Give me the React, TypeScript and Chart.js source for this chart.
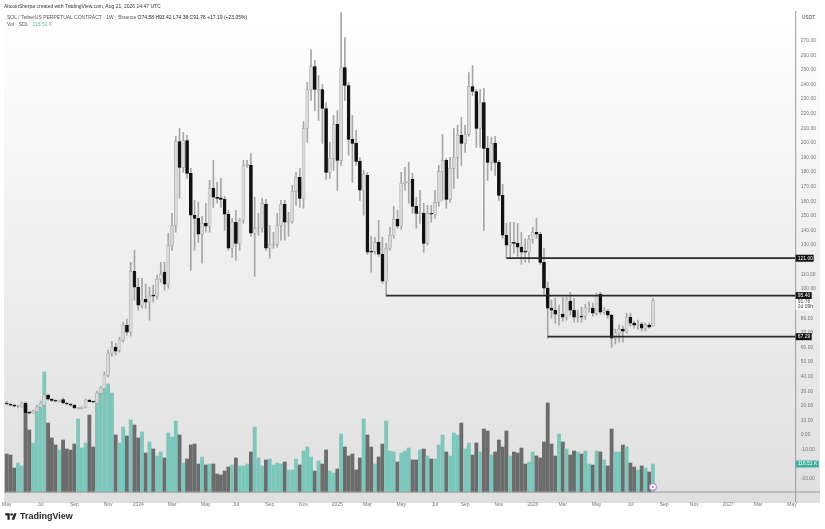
import { useRef, useEffect } from 'react'
import { Chart, registerables } from 'chart.js'

Chart.register(...registerables)

// weekly SOL/USDT candles
const opens = [
  21.9, 21.2, 20.5, 19.5, 19.5, 21.9, 15.7, 15.0, 16.4, 19.1,
  20.5, 27.3, 24.6, 23.6, 23.2, 24.3, 21.9, 21.2, 20.5, 18.1,
  18.1, 19.1, 23.9, 22.9, 21.9, 28.7, 32.1, 41.0, 56.0, 60.1,
  58.1, 64.9, 75.2, 70.4, 112.1, 101.2, 88.9, 93.0, 90.9, 95.7,
  95.0, 106.6, 111.6, 103.2, 129.9, 143.5, 200.9, 183.2, 201.6, 179.1,
  150.4, 148.3, 137.4, 144.9, 142.9, 168.8, 162.7, 162.3, 161.3, 151.1,
  127.8, 145.6, 131.2, 147.0, 184.5, 184.5, 138.1, 141.5, 141.5, 157.9,
  127.8, 129.9, 130.5, 143.5, 157.9, 145.6, 146.3, 166.8, 176.3, 162.0,
  209.8, 236.5, 252.2, 235.8, 236.5, 223.5, 179.8, 189.3, 212.6, 188.0,
  251.5, 239.2, 202.3, 199.6, 187.3, 167.5, 177.7, 125.8, 125.8, 131.9,
  123.7, 105.3, 127.8, 136.7, 147.6, 142.9, 172.2, 172.9, 175.0, 156.5,
  151.7, 151.7, 131.2, 151.7, 151.1, 159.3, 180.4, 188.0, 161.3, 182.5,
  190.0, 205.1, 199.6, 205.7, 238.5, 235.1, 209.8, 227.6, 196.2, 186.6,
  199.6, 186.6, 164.0, 136.7, 129.9, 131.9, 131.2, 128.5, 125.8, 125.1,
  134.0, 138.8, 137.4, 118.2, 100.5, 86.8, 85.4, 82.0, 82.7, 80.7,
  91.6, 85.4, 80.7, 81.3, 81.3, 86.8, 86.8, 83.4, 96.4, 84.1,
  84.8, 82.0, 66.3, 69.7, 72.5, 71.1, 80.7, 76.6, 75.2, 75.9,
  73.1, 75.2, 74.6,
]
const closes = [
  21.2, 20.5, 19.8, 19.8, 21.9, 15.0, 15.0, 16.4, 19.1, 21.9,
  27.3, 24.6, 23.6, 23.2, 23.6, 21.9, 21.2, 20.5, 18.5, 18.5,
  19.1, 23.9, 22.9, 22.6, 28.7, 32.1, 41.0, 56.0, 60.1, 57.4,
  64.9, 75.2, 70.4, 112.1, 101.2, 88.9, 92.3, 90.9, 95.0, 95.0,
  106.6, 110.0, 103.2, 129.9, 143.5, 200.9, 183.2, 201.6, 179.1, 150.4,
  148.3, 137.4, 144.9, 142.9, 168.8, 162.7, 162.0, 161.3, 151.1, 127.8,
  145.6, 131.2, 147.0, 184.5, 184.9, 138.1, 141.5, 142.2, 158.6, 127.8,
  130.5, 130.5, 143.5, 157.9, 145.6, 146.3, 166.8, 176.3, 162.0, 209.8,
  236.5, 252.2, 236.5, 236.5, 223.5, 179.8, 189.3, 212.6, 188.0, 251.5,
  239.2, 202.3, 199.6, 187.3, 167.5, 178.4, 125.1, 125.1, 131.9, 123.7,
  105.3, 127.8, 136.7, 147.6, 142.9, 172.2, 172.9, 173.6, 156.5, 151.7,
  152.4, 131.2, 151.7, 151.1, 159.3, 180.4, 188.0, 161.3, 182.5, 190.0,
  205.1, 199.6, 205.7, 238.5, 235.1, 209.8, 227.6, 196.2, 186.6, 199.6,
  186.6, 164.0, 136.7, 129.9, 131.9, 131.2, 128.5, 125.1, 125.1, 134.0,
  138.8, 137.4, 118.2, 100.5, 86.8, 85.4, 82.7, 82.7, 80.7, 93.0,
  85.4, 80.7, 81.3, 80.7, 86.8, 87.5, 83.4, 96.4, 84.1, 85.4,
  82.0, 66.3, 69.7, 72.5, 71.1, 80.7, 76.6, 75.2, 75.9, 73.1,
  75.2, 73.8, 91.8,
]
const highs = [
  23.2, 21.9, 21.2, 20.5, 22.6, 22.6, 16.4, 17.1, 20.5, 23.2,
  28.7, 28.0, 24.9, 23.9, 23.9, 25.3, 22.2, 21.5, 20.8, 18.8,
  19.5, 24.6, 24.6, 23.2, 30.1, 33.5, 43.1, 58.1, 64.2, 62.9,
  67.0, 77.2, 79.3, 118.2, 126.4, 107.3, 107.3, 103.2, 101.2, 102.5,
  109.4, 118.2, 118.2, 138.1, 151.7, 204.4, 209.8, 207.1, 205.1, 182.5,
  160.6, 159.3, 149.7, 158.6, 174.3, 188.0, 172.9, 175.7, 163.4, 153.8,
  148.3, 153.8, 148.3, 188.0, 188.0, 192.7, 162.7, 151.7, 162.0, 161.3,
  143.5, 138.8, 151.7, 160.6, 160.6, 152.4, 170.9, 179.8, 182.5, 214.6,
  241.3, 263.8, 256.3, 246.1, 239.9, 227.6, 200.3, 218.7, 222.1, 289.1,
  272.0, 241.3, 218.7, 208.5, 190.0, 181.1, 179.8, 136.0, 135.3, 147.0,
  135.3, 131.2, 142.2, 156.5, 153.8, 179.8, 183.2, 186.6, 179.1, 162.7,
  167.5, 158.6, 157.2, 157.2, 167.5, 184.5, 205.7, 189.3, 190.0, 209.8,
  211.9, 217.4, 211.9, 248.1, 252.9, 236.5, 236.5, 237.2, 204.4, 203.7,
  204.4, 188.0, 171.6, 144.9, 145.6, 145.6, 144.9, 138.8, 134.6, 136.7,
  142.2, 148.3, 138.8, 127.8, 104.6, 92.3, 93.6, 88.9, 94.3, 94.3,
  97.7, 93.6, 85.4, 87.5, 89.5, 90.9, 90.2, 97.1, 97.7, 87.5,
  86.1, 82.7, 72.5, 75.2, 74.5, 83.4, 83.4, 77.9, 78.6, 77.2,
  76.6, 76.6, 93.4,
]
const lows = [
  20.5, 19.8, 19.1, 18.8, 19.1, 14.4, 14.4, 14.7, 15.7, 18.5,
  19.8, 23.9, 22.9, 22.6, 22.6, 21.2, 20.5, 19.8, 18.1, 17.8,
  17.8, 18.5, 22.6, 21.9, 21.2, 27.3, 30.8, 39.6, 54.0, 54.7,
  56.7, 63.6, 68.4, 67.7, 92.3, 85.4, 86.8, 86.8, 78.6, 90.9,
  93.0, 104.6, 99.1, 100.5, 126.4, 138.8, 162.0, 179.8, 175.7, 112.8,
  126.4, 131.9, 117.6, 138.8, 138.8, 155.8, 158.6, 155.8, 140.1, 126.4,
  121.7, 119.6, 126.4, 144.9, 183.2, 136.0, 108.7, 136.7, 138.8, 126.4,
  121.0, 127.8, 128.5, 133.3, 133.3, 136.0, 144.9, 157.2, 155.8, 155.2,
  200.3, 229.0, 222.1, 215.3, 199.6, 175.0, 175.7, 181.1, 167.5, 184.5,
  229.0, 191.4, 172.9, 184.5, 160.6, 150.4, 123.7, 111.4, 123.7, 122.3,
  103.9, 95.0, 126.4, 134.6, 141.5, 140.8, 167.5, 158.6, 151.7, 141.5,
  144.9, 125.1, 129.9, 145.6, 148.3, 156.5, 160.6, 155.2, 159.3, 168.8,
  175.7, 184.5, 193.4, 204.4, 232.4, 196.8, 196.8, 140.1, 174.3, 181.1,
  177.7, 160.6, 134.6, 121.0, 121.0, 124.4, 122.3, 116.9, 118.2, 118.2,
  131.2, 134.6, 116.9, 96.4, 66.3, 80.0, 76.6, 75.2, 77.9, 78.6,
  82.0, 77.2, 77.2, 77.2, 79.3, 84.1, 81.3, 82.0, 82.7, 82.7,
  80.0, 60.1, 62.2, 63.6, 63.6, 69.7, 74.5, 73.1, 72.5, 71.1,
  71.1, 73.1, 74.4,
]
const volumes = [
  38, 37, 24, 29, 26, 88, 62, 49, 80, 87,
  120, 69, 54, 47, 42, 52, 43, 42, 48, 73,
  44, 49, 77, 45, 90, 100, 103, 108, 99, 57,
  49, 65, 56, 72, 67, 54, 60, 39, 50, 43,
  36, 40, 34, 59, 55, 71, 57, 29, 33, 47,
  48, 28, 35, 27, 28, 28, 18, 17, 21, 25,
  27, 34, 26, 26, 28, 40, 65, 34, 26, 32,
  33, 27, 29, 28, 30, 22, 22, 33, 27, 41,
  45, 35, 21, 31, 28, 42, 21, 19, 23, 58,
  45, 36, 38, 22, 34, 73, 57, 45, 28, 35,
  48, 71, 41, 40, 30, 39, 41, 44, 32, 32,
  42, 43, 36, 33, 33, 47, 57, 40, 36, 59,
  57, 69, 43, 49, 37, 49, 40, 63, 61, 37,
  40, 52, 45, 61, 36, 40, 39, 44, 28, 30,
  40, 36, 34, 50, 89, 48, 36, 58, 50, 43,
  37, 41, 40, 38, 41, 28, 27, 41, 40, 32,
  26, 63, 40, 40, 47, 45, 29, 25, 22, 26,
  24, 20, 28,
]

const weekCount = 211
const tickIndex = [0, 9, 18, 27, 35, 44, 53, 61, 70, 79, 88, 96, 105, 114, 122, 131, 140, 148, 157, 166, 175, 183, 192, 200, 209]
const tickText = ['May', 'Jul', 'Sep', 'Nov', '2024', 'Mar', 'May', 'Jul', 'Sep', 'Nov', '2025', 'Mar', 'May', 'Jul', 'Sep', 'Nov', '2026', 'Mar', 'May', 'Jul', 'Sep', 'Nov', '2027', 'Mar', 'May']
const priceTicks = [270, 260, 250, 240, 230, 220, 210, 200, 190, 180, 170, 160, 150, 140, 130, 110, 100, 80, 70, 60, 50, 40, 30, 20, 10, 0, -10, -30]

const levels = [121, 95.4, 67.29]
const levelStarts = [133, 101, 144]

const lastClose = '91.76'
const countdown = '2d 09h'
const lastVolume = '116.51 K'

const FONT = '"Liberation Sans", Arial, sans-serif'
const UP_VOL = '#7cc7bb'
const DOWN_VOL = '#6c6c6c'

const weeks = Array.from({ length: weekCount }, (_, i) => String(i))
const isUp = closes.map((c, i) => c >= opens[i])

// gradient panel, drawn under everything
const panelPlugin = {
  id: 'panel',
  beforeDraw(chart: any) {
    const { ctx } = chart
    const g = ctx.createLinearGradient(0, 10, 0, 503)
    g.addColorStop(0, '#ffffff')
    g.addColorStop(1, '#dfdfdf')
    ctx.save()
    ctx.fillStyle = g
    ctx.fillRect(4, 10, 816, 493)
    ctx.restore()
  },
}

// axis lines, price tags and the small marker under the last bar
const tagsPlugin = {
  id: 'tags',
  afterDraw(chart: any) {
    const { ctx, chartArea, scales } = chart
    const right = chartArea.right
    ctx.save()
    ctx.strokeStyle = '#9a9a9a'
    ctx.lineWidth = 1
    ctx.beginPath()
    ctx.moveTo(right, 11)
    ctx.lineTo(right, 503)
    ctx.moveTo(4, chartArea.bottom)
    ctx.lineTo(820, chartArea.bottom)
    ctx.stroke()

    ctx.font = `5px ${FONT}`
    ctx.textBaseline = 'middle'
    ctx.textAlign = 'left'
    levels.forEach((v, i) => {
      const y = scales.y.getPixelForValue(v)
      const w = i === 0 ? 18 : 16
      ctx.fillStyle = '#131313'
      ctx.fillRect(right, y - 3.5, w, 7)
      ctx.fillStyle = '#ffffff'
      ctx.fillText(v.toFixed(2), right + 2, y)
    })

    const ly = scales.y.getPixelForValue(Number(lastClose))
    ctx.fillStyle = '#ffffff'
    ctx.fillRect(right, ly - 2, 16, 11)
    ctx.fillStyle = '#444444'
    ctx.fillText(lastClose, right + 2, ly + 1)
    ctx.fillText(countdown, right + 2, ly + 6)

    const vy = scales.vol.getPixelForValue(volumes[volumes.length - 1])
    ctx.fillStyle = '#3fae9f'
    ctx.fillRect(right, vy - 3.5, 23, 7)
    ctx.fillStyle = '#ffffff'
    ctx.fillText(lastVolume, right + 2, vy)

    ctx.fillStyle = '#444444'
    ctx.fillText('USDT', right + 6, 18)

    const mx = scales.x.getPixelForValue(volumes.length - 1)
    ctx.beginPath()
    ctx.arc(mx, 487, 3.4, 0, Math.PI * 2)
    ctx.fillStyle = '#ffffff'
    ctx.fill()
    ctx.strokeStyle = '#b98ad6'
    ctx.lineWidth = 1.2
    ctx.stroke()
    ctx.beginPath()
    ctx.arc(mx, 487, 1, 0, Math.PI * 2)
    ctx.fillStyle = '#a56cc8'
    ctx.fill()
    ctx.restore()
  },
}

export default function App() {
  const canvasRef = useRef<HTMLCanvasElement>(null)
  const chartRef = useRef<Chart | null>(null)

  useEffect(() => {
    if (!canvasRef.current) return
    if (chartRef.current) chartRef.current.destroy()

    chartRef.current = new Chart(canvasRef.current, {
      type: 'bar',
      data: {
        labels: weeks,
        datasets: [
          {
            label: 'Vol',
            data: volumes,
            yAxisID: 'vol',
            order: 4,
            grouped: false,
            barThickness: 3.2,
            clip: false,
            backgroundColor: volumes.map((_, i) => (isUp[i] ? UP_VOL : DOWN_VOL)),
          },
          {
            label: 'Wick',
            data: lows.map((l, i) => [l, highs[i]]),
            yAxisID: 'y',
            order: 3,
            grouped: false,
            barThickness: 1,
            clip: false,
            backgroundColor: '#a6a6a6',
          },
          {
            label: 'Body',
            data: opens.map((o, i) => [Math.min(o, closes[i]), Math.max(o, closes[i])]),
            yAxisID: 'y',
            order: 2,
            grouped: false,
            barThickness: 3,
            minBarLength: 1,
            clip: false,
            borderSkipped: false,
            borderWidth: 0.5,
            borderColor: isUp.map(u => (u ? '#9c9c9c' : '#111111')),
            backgroundColor: isUp.map(u => (u ? '#d9d9d9' : '#111111')),
          },
          ...levels.map((v, n) => ({
            type: 'line' as const,
            label: v.toFixed(2),
            data: weeks.map((_, i) => (i >= levelStarts[n] ? v : null)),
            yAxisID: 'y',
            order: 1,
            borderColor: '#2a2a2a',
            borderWidth: 1.8,
            pointRadius: 0,
          })),
        ] as any,
      },
      options: {
        responsive: false,
        animation: false,
        layout: { padding: { left: 5.7, top: 11, right: 0, bottom: 0 } },
        plugins: { legend: { display: false }, tooltip: { enabled: false } },
        scales: {
          x: {
            offset: false,
            grid: { display: false },
            border: { display: false },
            ticks: {
              autoSkip: false,
              maxRotation: 0,
              padding: 2,
              color: '#777777',
              font: { size: 5, family: FONT },
              callback: v => tickText[tickIndex.indexOf(Number(v))],
            },
            afterBuildTicks: s => { s.ticks = tickIndex.map(value => ({ value })) },
            afterFit: s => { s.height = 37 },
          },
          y: {
            position: 'right',
            min: -39,
            max: 290.2,
            grid: { display: false, drawTicks: false },
            border: { display: false },
            ticks: {
              padding: 5,
              color: '#777777',
              font: { size: 5, family: FONT },
              callback: v => Number(v).toFixed(2),
            },
            afterBuildTicks: s => { s.ticks = priceTicks.map(value => ({ value })) },
            afterFit: s => { s.width = 29.3 },
          },
          vol: { display: false, position: 'left', min: 0, max: 481 },
        },
      },
      plugins: [panelPlugin, tagsPlugin],
    })

    return () => { chartRef.current?.destroy() }
  }, [])

  return (
    <div style={{ position: 'absolute', left: 0, top: 0, width: 825, height: 529, background: '#fff', fontFamily: FONT, overflow: 'hidden' }}>
      <canvas ref={canvasRef} width={825} height={529} style={{ display: 'block' }} />
      <div style={{ position: 'absolute', left: 4, top: 3, fontSize: 5, lineHeight: '6px', color: '#333', whiteSpace: 'nowrap' }}>
        AltcoinSherpa created with TradingView.com, Aug 21, 2026 14:47 UTC
      </div>
      <div style={{ position: 'absolute', left: 7, top: 14, fontSize: 5, lineHeight: '6px', color: '#555', whiteSpace: 'nowrap' }}>
        SOL / TetherUS PERPETUAL CONTRACT · 1W · Binance <span style={{ color: '#222' }}>O74.58 H93.42 L74.38 C91.76 +17.19 (+23.05%)</span>
      </div>
      <div style={{ position: 'absolute', left: 7, top: 21, fontSize: 5, lineHeight: '6px', color: '#555', whiteSpace: 'nowrap' }}>
        Vol · SOL <span style={{ color: '#5cb8aa', marginLeft: 3 }}>{lastVolume}</span>
      </div>
      <svg viewBox="0 0 36 28" width="12" height="9" style={{ position: 'absolute', left: 5, top: 512 }}>
        <path d="M14 24H7V11H0V4h14v20zM28 24h-8l7.5-20h8L28 24z" fill="#222" />
        <circle cx="20" cy="8" r="4" fill="#222" />
      </svg>
      <div style={{ position: 'absolute', left: 20, top: 510, fontSize: 9, lineHeight: '12px', fontWeight: 700, color: '#2a2a2a', whiteSpace: 'nowrap' }}>
        TradingView
      </div>
    </div>
  )
}
